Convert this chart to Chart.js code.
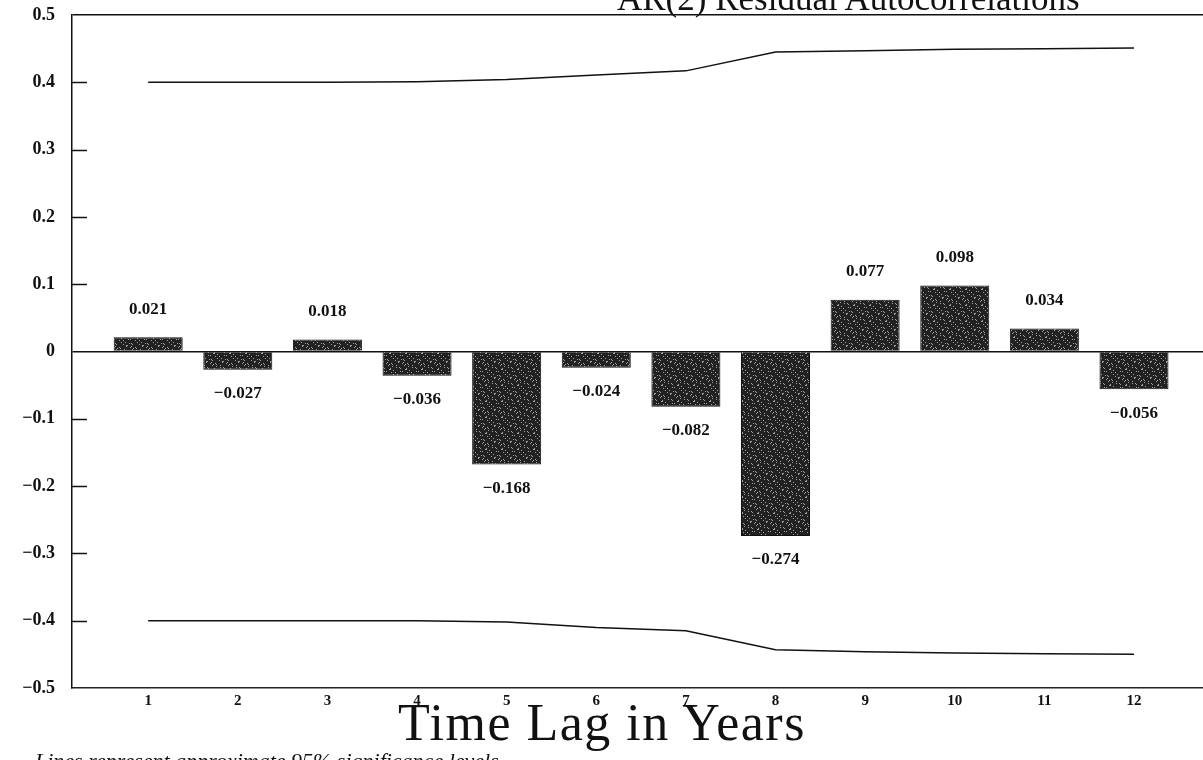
<!DOCTYPE html>
<html>
<head>
<meta charset="utf-8">
<script src="https://cdn.jsdelivr.net/npm/chart.js@4.4.1/dist/chart.umd.min.js"></script>
<style>
  html, body { margin: 0; padding: 0; background: #fff; overflow: hidden; }
  #wrap { position: relative; width: 1203px; height: 760px; }
  canvas { position: absolute; left: 0; top: 0; }
  .title { position: absolute; left: 617px; top: -19px; font-family: "Liberation Serif", serif; font-size: 35px; line-height: 35px; color: #111; white-space: nowrap; }
  .xtitle { position: absolute; left: 302px; width: 600px; top: 697px; text-align: center; font-family: "Liberation Serif", serif; font-size: 52px; line-height: 52px; letter-spacing: 1.5px; color: #111; white-space: nowrap; }
  .note { position: absolute; left: 35px; top: 750px; font-family: "Liberation Serif", serif; font-style: italic; font-size: 22px; line-height: 22px; color: #111; white-space: nowrap; }
</style>
</head>
<body>
<div id="wrap">
  <canvas id="c" width="1203" height="760"></canvas>
  <div class="title">AR(2) Residual Autocorrelations</div>
  <div class="xtitle" id="xt"></div>
  <div class="note">Lines represent approximate 95% significance levels</div>
</div>
<script>
// ---- data ----
const lags = [1, 2, 3, 4, 5, 6, 7, 8, 9, 10, 11, 12];
const autocorr = [0.021, -0.027, 0.018, -0.036, -0.168, -0.024, -0.082, -0.274, 0.077, 0.098, 0.034, -0.056];
const upperLimit = [0.400, 0.400, 0.400, 0.401, 0.404, 0.411, 0.417, 0.445, 0.447, 0.449, 0.450, 0.451];
const lowerLimit = [-0.400, -0.400, -0.400, -0.400, -0.402, -0.410, -0.415, -0.443, -0.446, -0.448, -0.449, -0.450];
const yTickValues = [-0.5, -0.4, -0.3, -0.2, -0.1, 0, 0.1, 0.2, 0.3, 0.4, 0.5];
const yTickLabels = ['\u22120.5', '\u22120.4', '\u22120.3', '\u22120.2', '\u22120.1', '0', '0.1', '0.2', '0.3', '0.4', '0.5'];
const xTickLabels = ['1', '2', '3', '4', '5', '6', '7', '8', '9', '10', '11', '12'];
const xTitle = 'Time Lag in Years';

document.getElementById('xt').textContent = xTitle;

// ---- speckled fill (texture only) ----
function speckle() {
  const p = document.createElement('canvas');
  p.width = 16; p.height = 16;
  const g = p.getContext('2d');
  g.fillStyle = '#222';
  g.fillRect(0, 0, 16, 16);
  g.fillStyle = '#a0a0a0';
  for (let y = 0; y < 16; y++) {
    for (let x = 0; x < 16; x++) {
      if (((x * 37 + y * 91 + x * y * 13) % 17) < 2) g.fillRect(x, y, 1, 1);
    }
  }
  return g.createPattern(p, 'repeat');
}
const fill = speckle();

const fmt = v => (v < 0 ? '\u2212' : '') + Math.abs(v).toFixed(3);

const extras = {
  id: 'extras',
  afterDraw(chart) {
    const ctx = chart.ctx;
    const ys = chart.scales.y;
    const ca = chart.chartArea;
    ctx.save();
    // inward tick marks on y axis
    ctx.strokeStyle = '#111';
    ctx.lineWidth = 1.5;
    yTickValues.forEach(v => {
      if (v === 0 || Math.abs(v) === 0.5) return;
      const py = Math.round(ys.getPixelForValue(v)) + 0.5;
      ctx.beginPath();
      ctx.moveTo(ca.left, py);
      ctx.lineTo(ca.left + 15, py);
      ctx.stroke();
    });
    // value labels
    const meta = chart.getDatasetMeta(0);
    ctx.font = 'bold 17px "Liberation Serif", serif';
    ctx.fillStyle = '#111';
    ctx.textAlign = 'center';
    ctx.textBaseline = 'middle';
    meta.data.forEach((bar, i) => {
      const v = autocorr[i];
      const y = v >= 0 ? bar.y - 28 : bar.y + 24;
      ctx.fillText(fmt(v), bar.x, y);
    });
    ctx.restore();
  }
};

new Chart(document.getElementById('c'), {
  data: {
    datasets: [
      {
        type: 'bar',
        data: lags.map((x, i) => ({ x, y: autocorr[i] })),
        backgroundColor: fill,
        borderColor: '#111',
        borderWidth: 1,
        categoryPercentage: 1,
        barPercentage: 0.77
      },
      {
        type: 'line',
        data: lags.map((x, i) => ({ x, y: upperLimit[i] })),
        borderColor: '#111',
        borderWidth: 1.5,
        pointRadius: 0,
        tension: 0,
        fill: false
      },
      {
        type: 'line',
        data: lags.map((x, i) => ({ x, y: lowerLimit[i] })),
        borderColor: '#111',
        borderWidth: 1.5,
        pointRadius: 0,
        tension: 0,
        fill: false
      }
    ]
  },
  options: {
    responsive: false,
    animation: false,
    devicePixelRatio: 1,
    layout: { autoPadding: false, padding: { top: 15, right: 0, left: 0, bottom: 0 } },
    plugins: { legend: { display: false }, tooltip: { enabled: false } },
    scales: {
      x: {
        type: 'linear',
        offset: false,
        min: 0.15,
        max: 12.77,
        afterBuildTicks: s => { s.ticks = lags.map(v => ({ value: v })); },
        afterFit: s => { s.height = 72; s.paddingLeft = 0; s.paddingRight = 0; },
        grid: { display: false, drawTicks: false },
        border: { display: true, color: '#222', width: 1.5, dash: [14, 3, 5, 3] },
        ticks: {
          padding: 4,
          color: '#111',
          font: { family: '"Liberation Serif", serif', size: 15, weight: 'bold' },
          callback: (v, i) => xTickLabels[i]
        }
      },
      y: {
        min: -0.5,
        max: 0.5,
        afterBuildTicks: s => { s.ticks = yTickValues.map(v => ({ value: v })); },
        afterFit: s => { s.width = 72; s.paddingTop = 0; s.paddingBottom = 0; },
        grid: {
          drawTicks: false,
          lineWidth: 1.5,
          color: c => (c.tick && (c.tick.value === 0 || c.tick.value === 0.5)) ? '#111' : 'rgba(0,0,0,0)'
        },
        border: { display: true, color: '#111', width: 1.5 },
        ticks: {
          padding: 17,
          color: '#111',
          font: { family: '"Liberation Serif", serif', size: 18, weight: 'bold' },
          callback: (v, i) => yTickLabels[i]
        }
      }
    }
  },
  plugins: [extras]
});
</script>
</body>
</html>
